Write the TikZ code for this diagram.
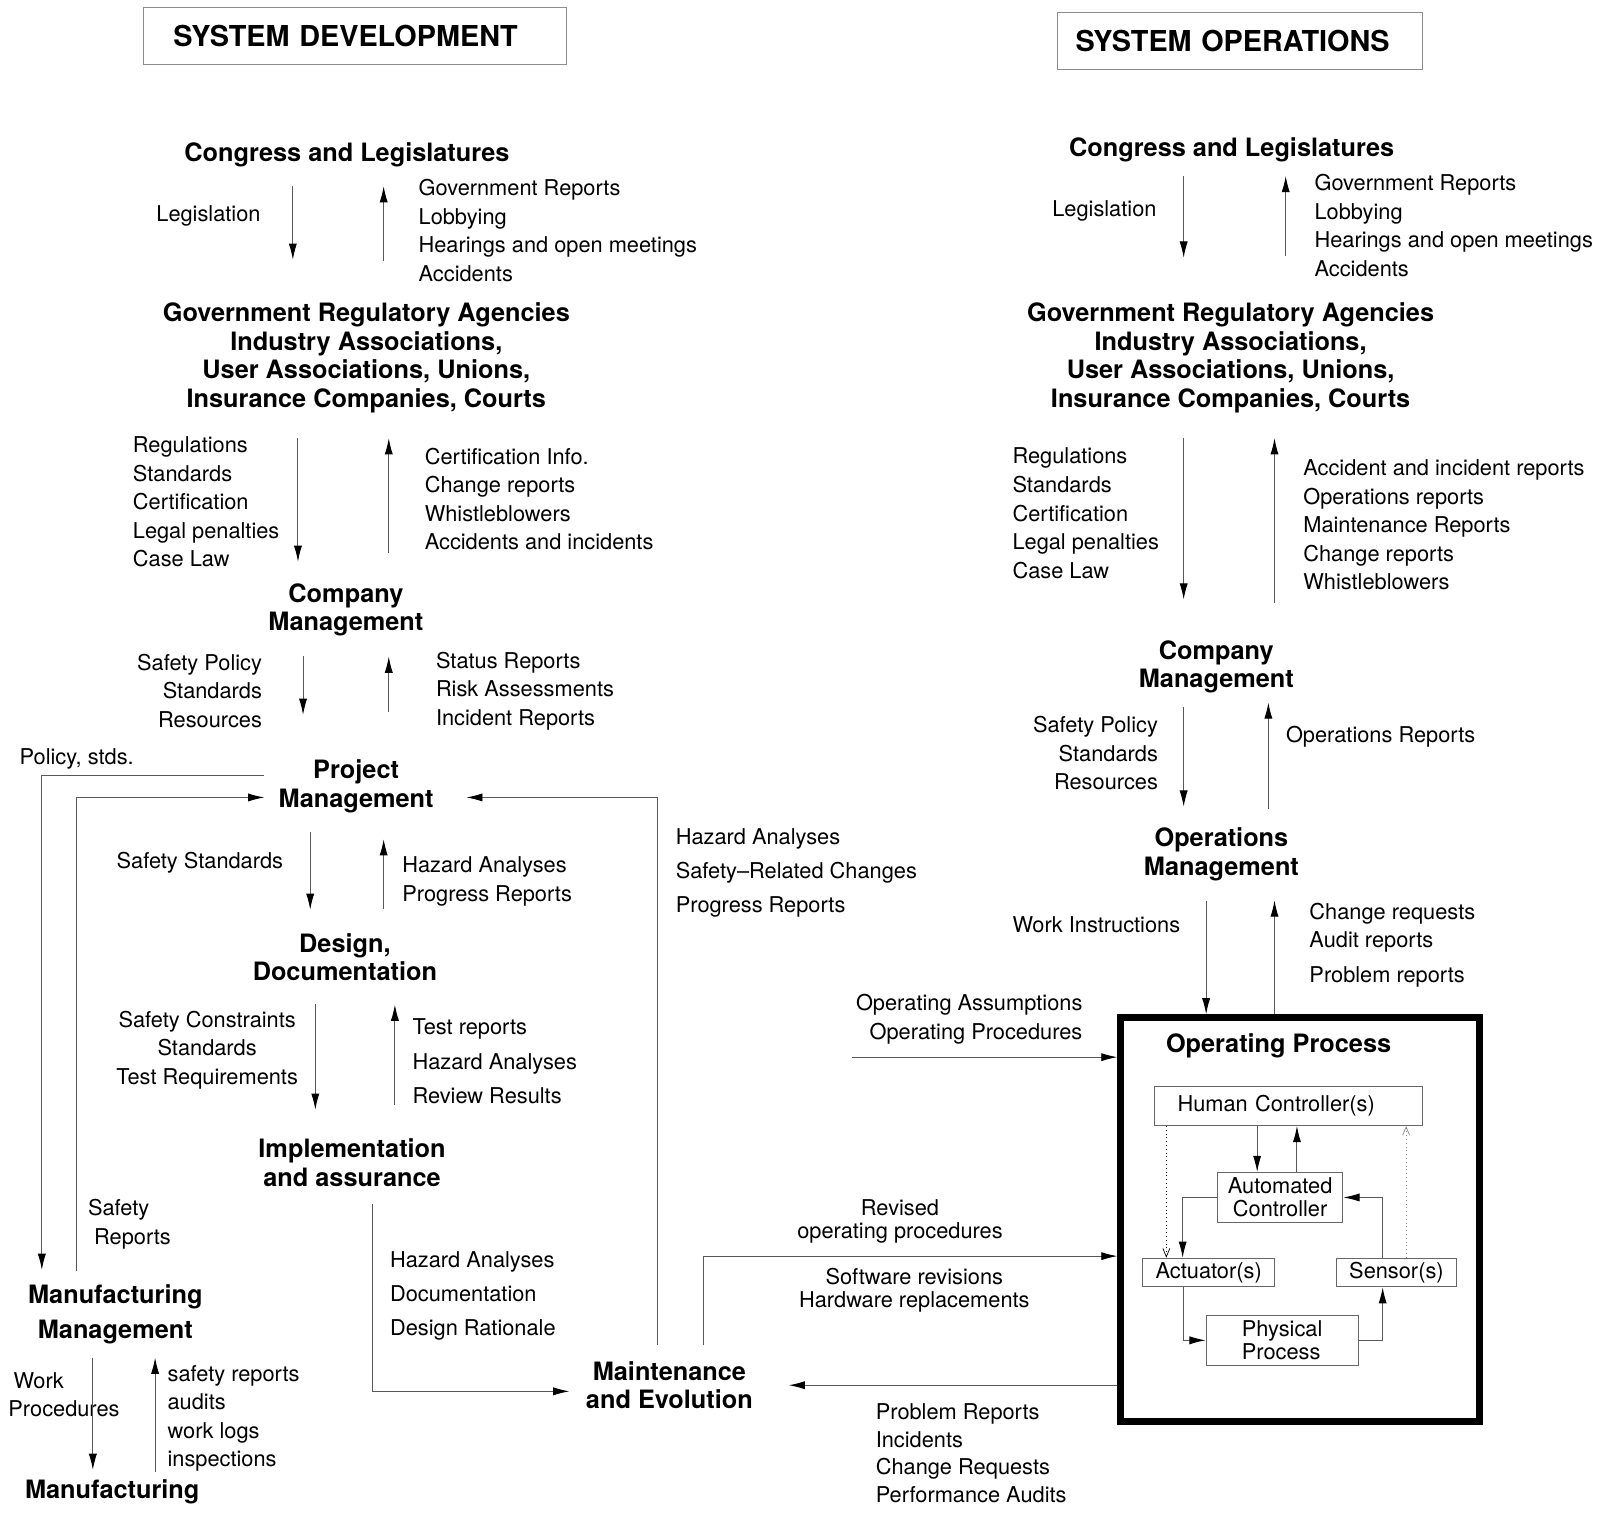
\documentclass[tikz,border=0pt]{standalone}
\usepackage{fontspec}
\setmainfont{TeX Gyre Heros}
\usetikzlibrary{arrows.meta,calc}
\newlength\pu
\setlength\pu{0.02551cm}

\begin{document}
\begin{tikzpicture}[x=0.02551cm, y=-0.02551cm,
        hd/.style={font=\bfseries\fontsize{18}{20.3}\selectfont, align=center, inner sep=0, yshift=-2.5\pu},
        ttl/.style={draw=black!45, line width=0.7pt, font=\bfseries\fontsize{20.5}{24}\selectfont, align=left, minimum height=56\pu, inner ysep=0},
        lst/.style={font=\fontsize{15.5}{20.3}\selectfont, align=left, anchor=west, inner sep=0},
        lstw/.style={lst, font=\fontsize{15.5}{24.4}\selectfont},
        bx/.style={draw=black!60, line width=0.7pt, font=\fontsize{15.5}{16.7}\selectfont, align=center, inner sep=0},
        arr/.style={draw=black!65, line width=0.7pt, -{Latex[length=11.5pt,width=5.8pt,black]}},
        dotarr/.style={line width=0.7pt, dotted, -{Straight Barb[length=6pt,width=5pt,line width=0.5pt]}}]
        \useasboundingbox (0,0) rectangle (1568,1491);

        \node[ttl, text width=356\pu, inner xsep=29\pu] (tdev) at (348,35) {SYSTEM DEVELOPMENT};
        \node[ttl, text width=322\pu, inner xsep=18\pu] (tops) at (1215,40) {SYSTEM OPERATIONS};

        % development side
        \node[hd] (congL) at (340,149) {Congress and Legislatures};
        \node[hd] (govL) at (359,348) {Government Regulatory Agencies\\Industry Associations,\\User Associations, Unions,\\Insurance Companies, Courts};
        \node[hd] (compL) at (339,595) {Company\\Management};
        \node[hd] (projL) at (349,768) {Project\\Management};
        \node[hd] (desL) at (338,935.5) {Design,\\Documentation};
        \node[hd] (implL) at (345,1137) {Implementation\\and assurance};
        \node[hd, font=\bfseries\fontsize{18}{25.3}\selectfont] (mfgmL) at (113,1285.5) {Manufacturing\\Management};
        \node[hd] (mfgL) at (110,1459) {Manufacturing};
        \node[hd] (maintL) at (656,1355) {Maintenance\\and Evolution};

        \node[lst] (legL) at (153,212) {Legislation};
        \node[lst] (grL) at (410,226) {Government Reports\\Lobbying\\Hearings and open meetings\\Accidents};
        \node[lst] (regL) at (130,492) {Regulations\\Standards\\Certification\\Legal penalties\\Case Law};
        \node[lst] (ciL) at (416,489) {Certification Info.\\Change reports\\Whistleblowers\\Accidents and incidents};
        \node[lst, anchor=east, align=right] (spL) at (257,677) {Safety Policy\\Standards\\Resources};
        \node[lst] (srL) at (427,677) {Status Reports\\Risk Assessments\\Incident Reports};
        \node[lst] (polL) at (19,744) {Policy, stds.};
        \node[lst] (ssL) at (114,845) {Safety Standards};
        \node[lst] (haL) at (394,864) {Hazard Analyses\\Progress Reports};
        \node[lstw] (hsL) at (662,855.5) {Hazard Analyses\\Safety--Related Changes\\Progress Reports};
        \node[lst, anchor=center, align=center] (scL) at (203,1029) {Safety Constraints\\Standards\\Test Requirements};
        \node[lstw] (trL) at (404,1040) {Test reports\\Hazard Analyses\\Review Results};
        \node[lst] (safrL) at (86,1200) {Safety\\\hspace*{6\pu}Reports};
        \node[lstw] (hdL) at (382,1270) {Hazard Analyses\\Documentation\\Design Rationale};
        \node[lst] (wpL) at (8,1367) {\hspace*{5\pu}Work\\Procedures};
        \node[lst] (sfL) at (164,1390) {safety reports\\audits\\work logs\\inspections};

        \draw[arr] ($(congL)+(-53,31)$) -- ($(govL)+(-72,-96)$);
        \draw[arr] ($(govL)+(17,-95)$) -- ($(congL)+(36,31)$);
        \draw[arr] ($(govL)+(-67,79)$) -- ($(compL)+(-47,-47)$);
        \draw[arr] ($(compL)+(42,-56)$) -- ($(govL)+(22,79)$);
        \draw[arr] ($(compL)+(-42,45)$) -- ($(projL)+(-52,-70)$);
        \draw[arr] ($(projL)+(32,-73)$) -- ($(compL)+(42,46)$);
        \draw[arr] ($(projL)+(-45,45)$) -- ($(desL)+(-34,-46.5)$);
        \draw[arr] ($(desL)+(38,-47.5)$) -- ($(projL)+(27,52)$);
        \draw[arr] ($(desL)+(-29,45.5)$) -- ($(implL)+(-36,-52)$);
        \draw[arr] ($(implL)+(42,-57)$) -- ($(desL)+(49,46.5)$);
        \draw[arr] ($(mfgmL)+(-22,42.5)$) -- ($(mfgL)+(-19,-21)$);
        \draw[arr] ($(mfgL)+(42,-19)$) -- ($(mfgmL)+(39,42.5)$);

        \draw[arr] ($(projL)+(-90,-11)$) -| ($(mfgmL)+(-72,-43.5)$);
        \draw[arr] ($(mfgmL)+(-38,-42.5)$) |- ($(projL)+(-90,11)$);
        \draw[arr] ($(maintL)+(-12,-39)$) |- ($(projL)+(108,11)$);
        \draw[arr] ($(implL)+(20,40)$) |- ($(maintL)+(-98,6)$);

        % operations side
        \node[hd] (congR) at (1207,144) {Congress and Legislatures};
        \node[hd] (govR) at (1206,348) {Government Regulatory Agencies\\Industry Associations,\\User Associations, Unions,\\Insurance Companies, Courts};
        \node[hd] (compR) at (1192,651) {Company\\Management};
        \node[hd] (opsR) at (1197,835) {Operations\\Management};

        \node[lst] (legR) at (1031,207) {Legislation};
        \node[lst] (grR) at (1288,221) {Government Reports\\Lobbying\\Hearings and open meetings\\Accidents};
        \node[lst] (regR) at (992,503) {Regulations\\Standards\\Certification\\Legal penalties\\Case Law};
        \node[lst] (aiR) at (1277,514.5) {Accident and incident reports\\Operations reports\\Maintenance Reports\\Change reports\\Whistleblowers};
        \node[lst, anchor=east, align=right] (spR) at (1135,738) {Safety Policy\\Standards\\Resources};
        \node[lst] (orR) at (1260,722) {Operations Reports};
        \node[lst] (wiR) at (992,906) {Work Instructions};
        \node[lst] (crR) at (1283,926) {Change requests\\Audit reports\\[6\pu]Problem reports};
        \node[lst, anchor=east, align=right] (oaR) at (1061,999) {Operating Assumptions\\Operating Procedures};
        \node[lst, anchor=center, align=center, font=\fontsize{15.5}{16}\selectfont] (revR) at (882,1197) {Revised\\operating procedures};
        \node[lst, anchor=center, align=center, font=\fontsize{15.5}{16.7}\selectfont] (swR) at (896,1264.5) {Software revisions\\Hardware replacements};
        \node[lst, font=\fontsize{15.5}{19.6}\selectfont] (prR) at (858,1424) {Problem Reports\\Incidents\\Change Requests\\Performance Audits};

        \node[draw, line width=5pt, minimum width=351\pu, minimum height=396\pu, inner sep=0] (opp) at (1274,1195.5) {};
        \node[hd] (oplbl) at (1253,1022) {Operating Process};
        \node[bx, minimum width=263\pu, minimum height=38\pu, text width=217\pu, inner xsep=23\pu, align=left] (hum) at (1262.5,1084) {Human Controller(s)};
        \node[bx, minimum width=123\pu, minimum height=49\pu] (autoc) at (1254.5,1173.5) {Automated\\Controller};
        \node[bx, minimum width=129\pu, minimum height=28\pu] (act) at (1184.5,1247) {Actuator(s)};
        \node[bx, minimum width=117\pu, minimum height=28\pu] (sens) at (1368.5,1247) {Sensor(s)};
        \node[bx, minimum width=149\pu, minimum height=49\pu, align=left] (phys) at (1256.5,1313.5) {Physical\\Process};

        \draw[arr] ($(congR)+(-47,26)$) -- ($(govR)+(-46,-98)$);
        \draw[arr] ($(govR)+(54,-100)$) -- ($(congR)+(53,26)$);
        \draw[arr] ($(govR)+(-46,79)$) -- ($(compR)+(-32,-66)$);
        \draw[arr] ($(compR)+(57,-63)$) -- ($(govR)+(43,79)$);
        \draw[arr] ($(compR)+(-32,39)$) -- ($(opsR)+(-37,-47)$);
        \draw[arr] ($(opsR)+(46,-45)$) -- ($(compR)+(51,35)$);
        \draw[arr] ($(opsR)+(-15,45)$) -- ($(opp.north)+(-92,0)$);
        \draw[arr] ($(opp.north)+(-25,0)$) -- ($(opsR)+(52,45)$);

        \draw[arr] ($(opp.west)+(-260,-159.5)$) -- ($(opp.west)+(0,-159.5)$);
        \draw[arr] ($(maintL)+(33,-39)$) |- ($(opp.west)+(0,35.5)$);
        \draw[arr, shorten >=35\pu] (opp.west |- maintL.east) -- (maintL.east);

        \draw[arr] ($(hum.south)+(-30.5,0)$) -- ($(autoc.north)+(-22.5,0)$);
        \draw[arr] ($(autoc.north)+(16.5,0)$) -- ($(hum.south)+(8.5,0)$);
        \draw[dotarr] ($(hum.south)+(-119.5,0)$) -- ($(act.north)+(-41.5,0)$);
        \draw[dotarr, draw=black!45] ($(sens.north)+(9.5,0)$) -- ($(hum.south)+(115.5,0)$);
        \draw[arr] (autoc.west) -| ($(act.north)+(-25.5,0)$);
        \draw[arr] ($(sens.north)+(-13.5,0)$) |- (autoc.east);
        \draw[arr] ($(act.south)+(-24.5,0)$) |- (phys.west);
        \draw[arr] (phys.east) -| ($(sens.south)+(-13.5,0)$);
\end{tikzpicture}
\end{document}
